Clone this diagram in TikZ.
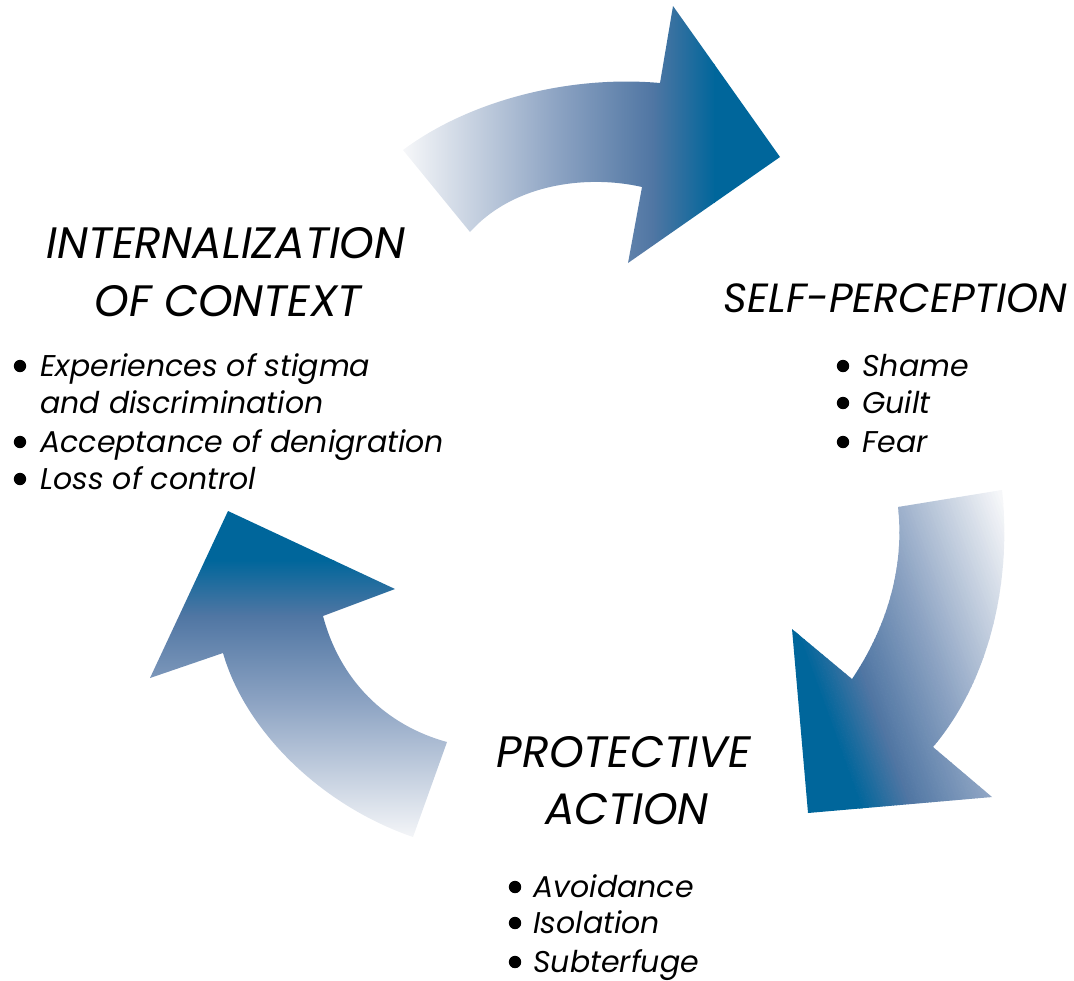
\documentclass[tikz,border=0pt]{standalone}
\usepackage{fontspec}
\setmainfont{Poppins}
\usetikzlibrary{positioning}
\definecolor{cycledark}{HTML}{00669B}
\definecolor{cyclesteel}{HTML}{5076A3}
\definecolor{cyclemid}{HTML}{8BA2C2}
\definecolor{cyclelight}{HTML}{F6F7F9}
\pgfdeclarehorizontalshading{cyclefade}{100bp}{color(0bp)=(cyclelight); color(25bp)=(cyclelight); color(50bp)=(cyclemid); color(65bp)=(cyclesteel); color(75bp)=(cycledark); color(100bp)=(cycledark)}
\pgfdeclareverticalshading{cyclerise}{100bp}{color(0bp)=(cyclelight); color(25bp)=(cyclelight); color(50bp)=(cyclemid); color(65bp)=(cyclesteel); color(75bp)=(cycledark); color(100bp)=(cycledark)}
\tikzstyle{heading} = [font=\fontsize{22}{22}\selectfont\itshape, inner sep=0pt, anchor=base]
\tikzstyle{item} = [font=\fontsize{15}{15}\selectfont\itshape, inner sep=0pt, anchor=base west]
\tikzstyle{dot} = [circle, fill=black, inner sep=0pt, minimum size=6.2pt]

\begin{document}
\begin{tikzpicture}[x=0.5pt, y=-0.5pt]
    \useasboundingbox (0,0) rectangle (1074,980);
    % arrow: context -> self-perception
    \begin{scope}
        \clip (403,150) .. controls (470,100) and (570,75) .. (660,83) -- (673,6) -- (780,157)
            -- (628,263) -- (642,187) .. controls (590,175) and (515,182) .. (470,232) -- cycle;
        \shade[shading=cyclefade] (403,0) rectangle (715,270);
        \fill[cycledark] (714,0) rectangle (790,270);
    \end{scope}
    % arrow: self-perception -> protective action, fade drawn in strips
    \begin{scope}
        \clip (898,507) -- (1002,490) .. controls (1012,580) and (990,680) .. (933,747) -- (992,797)
            -- (808,813) -- (792,629) -- (852,679) .. controls (885,630) and (905,570) .. (898,507) -- cycle;
        \begin{scope}[rotate around={200:(900,650)}]
            \fill[cyclelight] (600,420) rectangle (753,880);
            \fill[cycledark] (990,420) rectangle (1150,880);
            \foreach \k in {0,...,79} {
                \pgfmathsetmacro{\t}{\k/79}
                \ifdim\t pt<0.5pt
                    \pgfmathsetmacro{\p}{200*\t}
                    \colorlet{strip}{cyclemid!\p!cyclelight}
                \else\ifdim\t pt<0.8pt
                    \pgfmathsetmacro{\p}{100*(\t-0.5)/0.3}
                    \colorlet{strip}{cyclesteel!\p!cyclemid}
                \else
                    \pgfmathsetmacro{\p}{500*(\t-0.8)}
                    \colorlet{strip}{cycledark!\p!cyclesteel}
                \fi\fi
                \fill[strip] (752+3*\k,420) rectangle (755.5+3*\k,880);
            }
        \end{scope}
    \end{scope}
    % arrow: protective action -> context
    \begin{scope}
        \clip (228,511) -- (395,589) -- (323,616) .. controls (340,680) and (385,725) .. (447,742)
            -- (413,837) .. controls (320,805) and (245,730) .. (223,653) -- (150,678) -- cycle;
        \shade[shading=cyclerise] (140,560) rectangle (460,840);
        \fill[cycledark] (140,500) rectangle (460,561);
    \end{scope}

    \node[heading] (ctxtop) at (226,258) {INTERNALIZATION};
    \node[heading] (ctxbot) at (228,316) {OF CONTEXT};
    \node[heading, anchor=base east, font=\fontsize{20.4}{20.4}\selectfont\itshape] (self) at (1068,312) {SELF-PERCEPTION};
    \node[heading] (prottop) at (624,767) {PROTECTIVE};
    \node[heading] (protbot) at (627,824) {ACTION};

    \foreach \y/\t [count=\i] in {376/Experiences of stigma, 413/and discrimination, 452/Acceptance of denigration, 489/Loss of control}
        \node[item] (ctx\i) at (40,\y) {\t};
    \foreach \y [count=\i] in {376,452,489}
        \node[dot] (ctxdot\i) at (20,\y-10) {};

    \foreach \y/\t [count=\i] in {376/Shame, 413/Guilt, 452/Fear} {
        \node[item] (self\i) at (862,\y) {\t};
        \node[dot] (selfdot\i) at (843,\y-10) {};
    }

    \foreach \y/\t [count=\i] in {897/Avoidance, 933/Isolation, 972/Subterfuge} {
        \node[item] (prot\i) at (533,\y) {\t};
        \node[dot] (protdot\i) at (515,\y-10) {};
    }
\end{tikzpicture}
\end{document}
